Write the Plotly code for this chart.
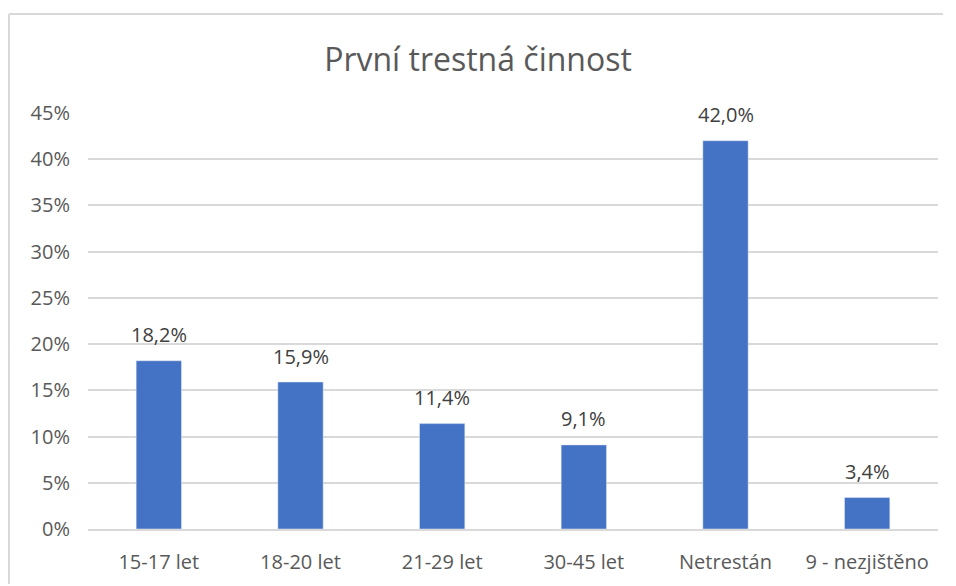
import plotly.graph_objects as go

# data
categories = ["15-17 let", "18-20 let", "21-29 let", "30-45 let", "Netrestán", "9 - nezjištěno"]
values = [18.2, 15.9, 11.4, 9.1, 42.0, 3.4]
y_ticks = [0, 5, 10, 15, 20, 25, 30, 35, 40, 45]

labels = [f"{v:.1f}%".replace(".", ",") for v in values]
tick_text = [f"{t}%" for t in y_ticks]

FONT = "Open Sans"
W, H = 940, 578  # page body has an 8px margin

fig = go.Figure(go.Bar(
    x=categories,
    y=values,
    marker=dict(color="#4472C4"),
    width=0.32,
    hoverinfo="skip",
))

# value labels above the bars
for c, v, t in zip(categories, values, labels):
    fig.add_annotation(x=c, y=v, text=t, showarrow=False,
                       yanchor="middle", yshift=26,
                       font=dict(family=FONT, size=20, color="#404040"))

fig.update_layout(
    width=W, height=H,
    margin=dict(l=80, r=10, t=105, b=57),
    paper_bgcolor="white", plot_bgcolor="white",
    title=dict(text="První trestná činnost", x=0.5, xanchor="center",
               y=1 - 52 / H, yanchor="middle",
               font=dict(family=FONT, size=32, color="#595959")),
    showlegend=False,
    font=dict(family=FONT, color="#595959"),
)

fig.update_yaxes(
    range=[0, 45], tickmode="array", tickvals=y_ticks, ticktext=tick_text,
    showgrid=True, gridcolor="#d9d9d9", gridwidth=1.5,
    zeroline=False, showline=False, automargin=False,
    tickfont=dict(family=FONT, size=20, color="#595959"),
    ticklabelstandoff=17,
)
fig.update_xaxes(
    showgrid=False, showline=True, linecolor="#d9d9d9", linewidth=1.5,
    automargin=False,
    tickfont=dict(family=FONT, size=20, color="#595959"),
    ticklabelstandoff=14,
)

# chart frame (only top and left edges are visible in the crop)
frame_x0 = (1 - 80) / 850
frame_top = (521 - 6) / 416
frame_line = dict(color="#d9d9d9", width=2)
fig.add_shape(type="line", xref="paper", yref="paper",
              x0=frame_x0, x1=(W - 85) / 850, y0=frame_top, y1=frame_top,
              line=frame_line, layer="below")
fig.add_shape(type="line", xref="paper", yref="paper",
              x0=frame_x0, x1=frame_x0, y0=frame_top, y1=(521 - H + 2) / 416,
              line=frame_line, layer="below")

fig.write_html("out.html")
